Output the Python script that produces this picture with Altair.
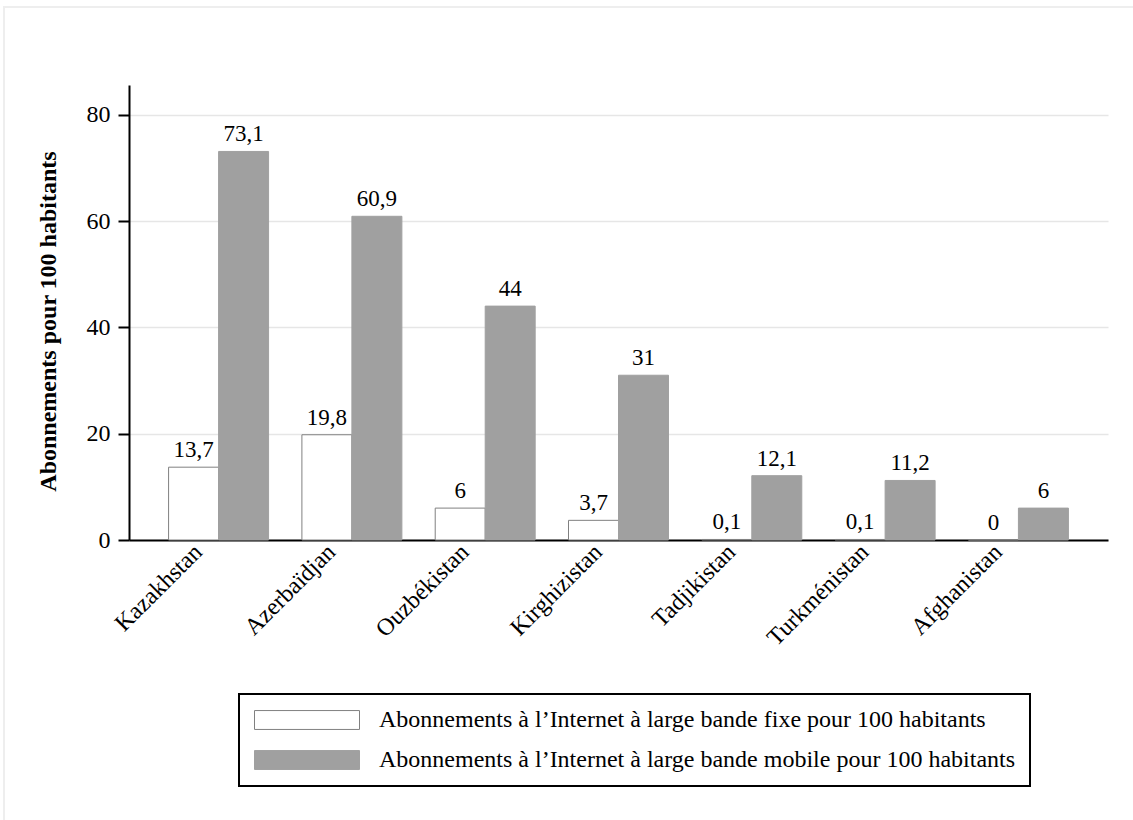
import altair as alt
import pandas as pd

# Abonnements à l'Internet à large bande, pour 100 habitants
pays = ["Kazakhstan", "Azerbaïdjan", "Ouzbékistan", "Kirghizistan",
        "Tadjikistan", "Turkménistan", "Afghanistan"]
fixe = [13.7, 19.8, 6, 3.7, 0.1, 0.1, 0]
mobile = [73.1, 60.9, 44, 31, 12.1, 11.2, 6]
series = [
    "Abonnements à l\u2019Internet à large bande fixe pour 100 habitants",
    "Abonnements à l\u2019Internet à large bande mobile pour 100 habitants",
]
y_ticks = [0, 20, 40, 60, 80]


def fr(v):
    return f"{v:g}".replace(".", ",")


rows = []
for p, f, m in zip(pays, fixe, mobile):
    rows.append({"pays": p, "serie": series[0], "valeur": f, "etiquette": fr(f)})
    rows.append({"pays": p, "serie": series[1], "valeur": m, "etiquette": fr(m)})
df = pd.DataFrame(rows)

FONT = "Liberation Serif"
FS = 24

x_enc = alt.X(
    "pays:N", sort=pays, title=None,
    scale=alt.Scale(paddingInner=0.25, paddingOuter=0.297),
    axis=alt.Axis(labelAngle=-45, labelAlign="right", labelBaseline="middle",
                  labelFontSize=FS, labelFont=FONT, labelColor="black",
                  ticks=False, labelPadding=8, labelOffset=-20,
                  domainColor="black", domainWidth=2),
)
xo_enc = alt.XOffset("serie:N", sort=series,
                     scale=alt.Scale(paddingInner=0, paddingOuter=0))
y_enc = alt.Y(
    "valeur:Q",
    scale=alt.Scale(domain=[0, 85.6], nice=False),
    axis=alt.Axis(values=y_ticks, title="Abonnements pour 100 habitants",
                  titleFont=FONT, titleFontSize=FS, titleFontWeight="bold",
                  titleColor="black", titleX=-81, titleY=236,
                  titleAlign="center", titleBaseline="middle",
                  labelFont=FONT, labelFontSize=FS, labelColor="black",
                  labelPadding=8, tickSize=11, tickColor="black", tickWidth=2,
                  domainColor="black", domainWidth=2,
                  grid=True, gridColor="#e6e6e6", gridWidth=1.5),
)

# legend swatch: a wide rectangle drawn to the right of the symbol origin
swatch = "M-1,-0.9H9V0.9H-1Z"

bars = alt.Chart(df).mark_bar(strokeWidth=1).encode(
    x=x_enc,
    xOffset=xo_enc,
    y=y_enc,
    fill=alt.Fill("serie:N", sort=series,
                  scale=alt.Scale(domain=series, range=["white", "#a0a0a0"]),
                  legend=alt.Legend(
                      title=None, orient="none", legendX=110, legendY=609,
                      symbolType=swatch, symbolSize=441,
                      symbolStrokeWidth=1, labelFont=FONT, labelFontSize=FS,
                      labelColor="black", labelLimit=0, labelOffset=102,
                      rowPadding=16, padding=14, strokeColor="black")),
    stroke=alt.Stroke("serie:N", sort=series,
                      scale=alt.Scale(domain=series, range=["#808080", "#a0a0a0"])),
)

labels = alt.Chart(df).mark_text(
    baseline="bottom", dy=-5, font=FONT, fontSize=23, color="black"
).encode(x=x_enc, xOffset=xo_enc, y=y_enc, text="etiquette:N")

# light outer frame around the figure
frame = alt.Chart(pd.DataFrame({"k": [0]})).mark_rect(
    fill=None, stroke="#eeeeee", strokeWidth=2
).encode(x=alt.value(-125), x2=alt.value(1040), y=alt.value(-78), y2=alt.value(760))

chart = alt.layer(frame, bars, labels).properties(
    width=979, height=455,
    autosize=alt.AutoSizeParams(type="none"),
    padding={"left": 129, "top": 85, "right": 25, "bottom": 280},
).configure_view(stroke=None).configure_legend(strokeWidth=2)

chart.save("out.html", embed_options={"renderer": "svg", "actions": False})
